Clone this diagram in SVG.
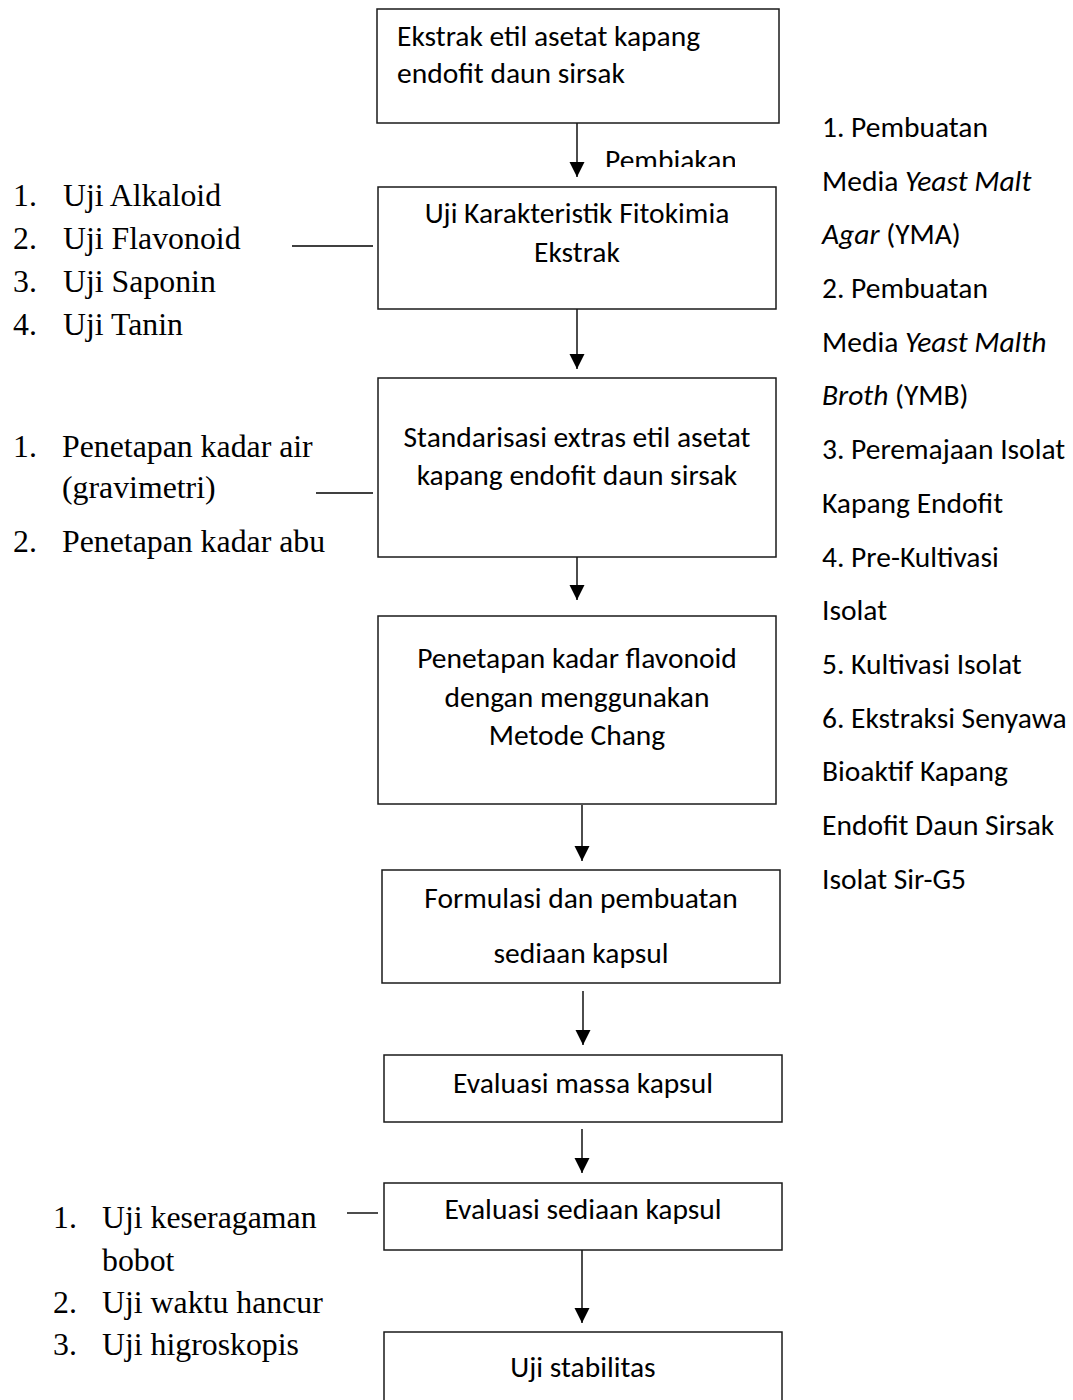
<svg xmlns="http://www.w3.org/2000/svg" width="1073" height="1400" viewBox="0 0 1073 1400">
<style>
.box{fill:#fff;stroke:#1a1a1a;stroke-width:1.5}
.c{font-family:Carlito,Lato,"Liberation Sans",sans-serif;font-size:29.5px;fill:#000}
.m{text-anchor:middle}
.t{font-family:"Liberation Serif","Times New Roman",serif;font-size:31.8px;fill:#000}
.ln{stroke:#000;stroke-width:1.4;fill:none}
</style>
<defs>
<marker id="ah" markerUnits="userSpaceOnUse" markerWidth="16" markerHeight="16" refX="15" refY="7.5" orient="auto">
<path d="M0,0 L15,7.5 L0,15 Z" fill="#000"/>
</marker>
<clipPath id="clipP"><rect x="595" y="140" width="140" height="27"/></clipPath>
</defs>
<rect width="1073" height="1400" fill="#fff"/>

<g id="connectors">
<line class="ln" x1="577" y1="118" x2="577" y2="177" marker-end="url(#ah)"/>
<line class="ln" x1="577" y1="309" x2="577" y2="369" marker-end="url(#ah)"/>
<line class="ln" x1="577" y1="543" x2="577" y2="600" marker-end="url(#ah)"/>
<line class="ln" x1="582" y1="805" x2="582" y2="861" marker-end="url(#ah)"/>
<line class="ln" x1="583" y1="991" x2="583" y2="1045" marker-end="url(#ah)"/>
<line class="ln" x1="582" y1="1129" x2="582" y2="1173" marker-end="url(#ah)"/>
<line class="ln" x1="582" y1="1250" x2="582" y2="1323" marker-end="url(#ah)"/>
<line class="ln" x1="292" y1="246" x2="373" y2="246"/>
<line class="ln" x1="316" y1="493" x2="373" y2="493"/>
<line class="ln" x1="347" y1="1213" x2="378" y2="1213"/>
</g>

<g id="label-pembiakan" clip-path="url(#clipP)">
<text class="c" x="605" y="170" font-size="24.5">Pembiakan</text>
</g>

<g id="n1">
<rect class="box" x="377" y="9" width="402" height="114"/>
<text class="c" x="397" y="46">Ekstrak etil asetat kapang</text>
<text class="c" x="397" y="83">endofit daun sirsak</text>
</g>

<g id="n2">
<rect class="box" x="378" y="187" width="398" height="122"/>
<text class="c m" x="577" y="223">Uji Karakteristik Fitokimia</text>
<text class="c m" x="577" y="262">Ekstrak</text>
</g>

<g id="n3">
<rect class="box" x="378" y="378" width="398" height="179"/>
<text class="c m" x="577" y="447">Standarisasi extras etil asetat</text>
<text class="c m" x="577" y="485">kapang endofit daun sirsak</text>
</g>

<g id="n4">
<rect class="box" x="378" y="616" width="398" height="188"/>
<text class="c m" x="577" y="668">Penetapan kadar flavonoid</text>
<text class="c m" x="577" y="707">dengan menggunakan</text>
<text class="c m" x="577" y="745">Metode Chang</text>
</g>

<g id="n5">
<rect class="box" x="382" y="870" width="398" height="113"/>
<text class="c m" x="581" y="908">Formulasi dan pembuatan</text>
<text class="c m" x="581" y="963">sediaan kapsul</text>
</g>

<g id="n6">
<rect class="box" x="384" y="1055" width="398" height="67"/>
<text class="c m" x="583" y="1093">Evaluasi massa kapsul</text>
</g>

<g id="n7">
<rect class="box" x="384" y="1183" width="398" height="67"/>
<text class="c m" x="583" y="1219">Evaluasi sediaan kapsul</text>
</g>

<g id="n8">
<rect class="box" x="384" y="1332" width="398" height="90"/>
<text class="c m" x="583" y="1377">Uji stabilitas</text>
</g>

<g id="list-fitokimia">
<text class="t" x="13" y="206">1.</text><text class="t" x="63" y="206">Uji Alkaloid</text>
<text class="t" x="13" y="249">2.</text><text class="t" x="63" y="249">Uji Flavonoid</text>
<text class="t" x="13" y="292">3.</text><text class="t" x="63" y="292">Uji Saponin</text>
<text class="t" x="13" y="335">4.</text><text class="t" x="63" y="335">Uji Tanin</text>
</g>

<g id="list-standarisasi">
<text class="t" x="13" y="457">1.</text><text class="t" x="62" y="457">Penetapan kadar air</text>
<text class="t" x="62" y="498">(gravimetri)</text>
<text class="t" x="13" y="552">2.</text><text class="t" x="62" y="552">Penetapan kadar abu</text>
</g>

<g id="list-evaluasi">
<text class="t" x="53" y="1228">1.</text><text class="t" x="102" y="1228">Uji keseragaman</text>
<text class="t" x="102" y="1271">bobot</text>
<text class="t" x="53" y="1313">2.</text><text class="t" x="102" y="1313">Uji waktu hancur</text>
<text class="t" x="53" y="1355">3.</text><text class="t" x="102" y="1355">Uji higroskopis</text>
</g>

<g id="list-pembiakan">
<text class="c" x="822" y="137">1. Pembuatan</text>
<text class="c" x="822" y="191">Media <tspan font-style="italic">Yeast Malt</tspan></text>
<text class="c" x="822" y="244"><tspan font-style="italic">Agar</tspan> (YMA)</text>
<text class="c" x="822" y="298">2. Pembuatan</text>
<text class="c" x="822" y="352">Media <tspan font-style="italic">Yeast Malth</tspan></text>
<text class="c" x="822" y="405"><tspan font-style="italic">Broth</tspan> (YMB)</text>
<text class="c" x="822" y="459">3. Peremajaan Isolat</text>
<text class="c" x="822" y="513">Kapang Endofit</text>
<text class="c" x="822" y="567">4. Pre-Kultivasi</text>
<text class="c" x="822" y="620">Isolat</text>
<text class="c" x="822" y="674">5. Kultivasi Isolat</text>
<text class="c" x="822" y="728">6. Ekstraksi Senyawa</text>
<text class="c" x="822" y="781">Bioaktif Kapang</text>
<text class="c" x="822" y="835">Endofit Daun Sirsak</text>
<text class="c" x="822" y="889">Isolat Sir-G5</text>
</g>
</svg>
